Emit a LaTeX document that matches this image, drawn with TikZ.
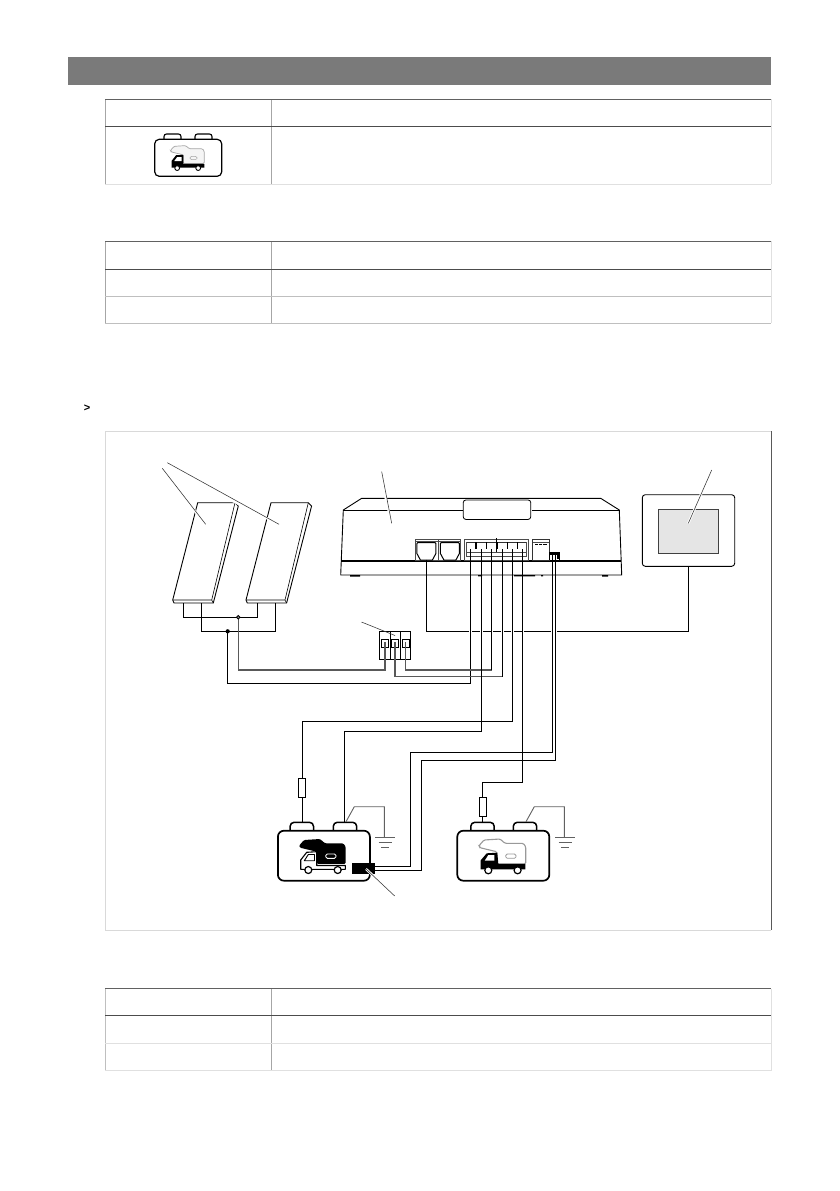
\documentclass[tikz,border=0pt]{standalone}
\usepackage{fontspec}
\setmainfont{Liberation Sans}
\tikzset{
  wire/.style={draw=black,line width=0.85pt,line join=miter},
  graywire/.style={draw=black!65,line width=1.2pt},
  leader/.style={draw=black!80,line width=0.55pt},
  leaderhalo/.style={draw=white,line width=2.4pt},
  ruledark/.style={draw=black!62,line width=0.8pt},
  rulelight/.style={draw=black!25,line width=0.8pt},
  rulefaint/.style={draw=black!12,line width=0.8pt},
  rulemid/.style={draw=black!35,line width=0.8pt},
  edge/.style={draw=black,line width=0.9pt,line join=round},
  batbody/.style={draw=black,line width=1.7pt,rounded corners=6pt,fill=white,minimum width=92pt,minimum height=50pt,inner sep=0pt,outer sep=0pt},
  smallbat/.style={draw=black,line width=1.2pt,rounded corners=4.5pt,fill=white,minimum width=67pt,minimum height=37pt,inner sep=0pt,outer sep=0pt},
  fuse/.style={draw=black,line width=0.7pt,fill=white,minimum width=7pt,minimum height=18.5pt,inner sep=0pt,outer sep=0pt},
  box/.style={draw=black,line width=0.9pt,fill=white,inner sep=0pt,outer sep=0pt},
  gnd/.pic={
    \draw[draw=black!62,line width=0.9pt] (-10,0)--(10,0) (-6.5,5)--(6.5,5) (-3.8,10)--(3.8,10);
  },
  termp/.pic={
    \draw[draw=black,line width=1.5pt,rounded corners=4pt,fill=white] (-11.7,9)--(-11.7,0)--(11.7,0)--(11.7,9);
  },
  smallterm/.pic={
    \draw[draw=black,line width=1.1pt,rounded corners=2.5pt,fill=white] (-8.5,7)--(-8.5,0)--(8.5,0)--(8.5,7);
  },
  panelp/.pic={
    \draw[edge,fill=white] (197.7,502.7)--(235,502.7)--(238.3,506)--(213.3,603)--(174,603)--(172.7,600)--cycle;
    \draw[edge,line width=0.6pt] (235,502.7)--(211.7,600)--(172.7,600) (211.7,600)--(213.3,603);
  },
  wheelp/.pic={
    \draw[draw=black,line width=1.2pt,fill=white] (0,0) circle (3.5);
  },
  rjjack/.pic={
    \draw[draw=black,line width=1pt,line join=round] (0,1)--(1,0)--(18,0)--(19,1)--(19,11)--(15.5,17.5)--(3.5,17.5)--(0,11)--cycle;
  },
}
% camper body, local coordinates from the top-left corner of a battery
\newcommand{\camperpath}{[rounded corners=1.2pt] (21.7,15.4)--(26.7,9.7)--(42.7,8.7)--(47.7,13)--(66,13)--(68.4,16.4)--(68.4,33.5)--(39.4,33.5)--(39.4,21.4)--(22.7,17.4)--cycle}
\begin{document}
\begin{tikzpicture}[x=1pt,y=-1pt]
\useasboundingbox (0,0) rectangle (839,1191);
\fill[white] (0,0) rectangle (839,1191);

% header band
\fill[fill=black!52] (68,57) rectangle (771,85);

% table 1
\draw[rulemid] (105,99)--(105,184) (271,99)--(271,184);
\draw[rulefaint] (771.5,99)--(771.5,184);
\draw[ruledark] (105,99)--(771,99);
\draw[draw=black!70,line width=0.9pt] (105,126.5)--(771,126.5);
\draw[rulefaint] (105,184)--(771,184);

% icon in table 1
\pic at (172.5,134) {smallterm};
\pic at (203.5,134) {smallterm};
\node[smallbat] (iconbat) at (188.2,157.8) {};
\begin{scope}[shift={(154.7,139.3)},scale=0.725]
  \draw[draw=black!35,line width=0.7pt,fill=black!4] \camperpath;
  \draw[draw=black!35,line width=0.5pt,rounded corners=1.5pt] (48.4,23.7) rectangle (58.7,28);
  \fill[black] (23.4,39)--(23.4,29.7)--(29.4,22)--(39.4,21.4)--(39.4,34)--(68.4,34)--(68.4,39)--cycle;
  \fill[white] (27,30)--(31,24.5)--(37,24.5)--(37,30)--cycle;
  \draw[draw=black,line width=0.9pt,fill=white] (31,39.7) circle (3.3) (60,39.7) circle (3.3);
\end{scope}

% table 2
\draw[rulemid] (105,241.3)--(105,323.3) (271,241.3)--(271,323.3);
\draw[rulefaint] (771.5,241.3)--(771.5,323.3);
\draw[ruledark] (105,241.3)--(771,241.3);
\draw[draw=black!70,line width=0.9pt] (105,269.3)--(771,269.3);
\draw[rulelight] (105,296.3)--(771,296.3) (105,323.3)--(771,323.3);

% table 3
\draw[rulelight] (105.5,988.5)--(105.5,1070.5);
\draw[rulemid] (271,988.5)--(271,1070.5);
\draw[rulefaint] (771.5,988.5)--(771.5,1070.5);
\draw[ruledark] (105,988.5)--(771,988.5);
\draw[draw=black!70,line width=0.9pt] (105,1015.5)--(771,1015.5);
\draw[rulefaint] (105,1043.3)--(771,1043.3) (105,1070.5)--(771,1070.5);

% chevron
\node[inner sep=0pt,font=\fontsize{11}{11}\selectfont\bfseries] (chevron) at (87,408.5) {>};

% figure frame
\draw[draw=black!15,line width=0.8pt] (105,431.3)--(771,431.3);
\draw[draw=black!15,line width=0.8pt] (105,431.3)--(105,930)--(771,930);
\draw[draw=black!65,line width=0.9pt] (771.5,431)--(771.5,930);

% ---- named connection points ----
\coordinate (p1a) at (183.3,603);
\coordinate (p1b) at (201.3,603);
\coordinate (p2a) at (257.3,603);
\coordinate (p2b) at (275.3,603);
\coordinate (dotg) at (238.3,617.3);
\coordinate (dotk) at (227.7,631.3);
\coordinate (sw1) at (385,642);
\coordinate (sw2) at (395,642);
\coordinate (sw3) at (405.3,642);
\coordinate (jack) at (426.7,559.5);
\coordinate (t1) at (470.5,549);
\coordinate (t2) at (481.3,549);
\coordinate (t3) at (491.7,549);
\coordinate (t4) at (502.3,549);
\coordinate (t5) at (512.3,549);
\coordinate (t6) at (522.7,549);
\coordinate (s1) at (552.3,554);
\coordinate (s2) at (555.3,554);
\coordinate (dsp) at (688.7,566.3);
\coordinate (a1) at (302.3,822.3);
\coordinate (a2) at (344.3,822.3);
\coordinate (b1) at (482.3,822.3);
\coordinate (g1) at (346,821.7);
\coordinate (g2) at (526,821.7);

% ---- panels ----
\pic {panelp};
\begin{scope}[xshift=73.3pt]\pic {panelp};\end{scope}

% ---- control unit ----
\draw[edge,fill=white] (343.3,510)--(361.7,498.3)--(600.7,498.3)--(619.3,510)--(621.7,575)--(340.7,575)--cycle;
\draw[edge] (343.3,510.5)--(463.3,510.5) (532.3,510.5)--(619.3,510.5);
\draw[draw=black,line width=1.5pt] (341.2,560.8)--(621.3,560.8);
\node[draw=black,line width=0.8pt,rounded corners=2.5pt,minimum width=67.4pt,minimum height=19.4pt,inner sep=0pt,outer sep=0pt,fill=white] (label) at (497,509.7) {};
\fill[black] (350,575) rectangle (360,576.6) (602,575) rectangle (608,576.6)
  (478,575) rectangle (482,576.4) (514,575) rectangle (535,576.4) (541,575) rectangle (543,576.4);
% RJ sockets
\node[draw=black!70,line width=0.8pt,fill=white,inner sep=0pt,outer sep=0pt,minimum width=45.5pt,minimum height=21.5pt,anchor=north west] (rj) at (415,539.3) {};
\draw[draw=black!70,line width=0.6pt] (438.3,539.3)--(438.3,560.5) (415,541.5)--(460.5,541.5);
\pic at (416.9,542.5) {rjjack};
\pic at (440.4,542.5) {rjjack};
% terminal block
\node[draw=black!70,line width=0.8pt,fill=white,inner sep=0pt,outer sep=0pt,minimum width=64pt,minimum height=21.5pt,anchor=north west] (block) at (464.3,539.3) {};
\draw[draw=black!80,line width=0.6pt] (466.5,542)--(526.5,542);
\draw[draw=black!70,line width=0.5pt] (466.5,542)--(466.5,556)--(526.5,556)--(526.5,542);
\draw[draw=black!70,line width=0.6pt] (467,552.3)--(526,552.3);
\foreach \xx in {476,486.5,497.5,507.5,517.5}
  \draw[draw=black,line width=1.4pt] (\xx,542)--(\xx,549);
\draw[draw=black,line width=0.7pt] (496.7,538)--(496.7,552);
% service connector
\node[draw=black!80,line width=0.8pt,fill=white,inner sep=0pt,outer sep=0pt,minimum width=16.6pt,minimum height=21.5pt,anchor=north west] (conn) at (532.5,539.3) {};
\draw[draw=black!70,line width=0.5pt] (532.5,542.7)--(549,542.7);
\draw[draw=black,line width=1.4pt,dash pattern=on 3pt off 0.8pt] (535,544.6)--(546.7,544.6);
% plug
\node[fill=black,inner sep=0pt,minimum width=10pt,minimum height=2.8pt,anchor=north west] (plug) at (549.3,551.7) {};
\draw[draw=black,line width=0.7pt] (549.8,552)--(549.8,560) (559,552)--(559,560);
\fill[black] (557,555) rectangle (558.5,559);

% ---- display ----
\node[draw=black,line width=0.9pt,rounded corners=3pt,minimum width=92.4pt,minimum height=71.6pt,inner sep=0pt,outer sep=0pt,fill=white] (display) at (688.5,530.5) {};
\node[draw=black!75,line width=0.9pt,fill=black!10,minimum width=59.3pt,minimum height=44.4pt,inner sep=0pt,outer sep=0pt] (screen) at (688.4,531.5) {};

% ---- battery terminals ----
\pic at (301.8,822.3) {termp};
\pic at (345,822.3) {termp};
\pic at (482.5,822.3) {termp};
\pic at (525,822.3) {termp};
% ---- batteries ----
\node[batbody] (bat1) at (323.9,855.7) {};
\node[batbody] (bat2) at (503.3,855.7) {};
% truck on battery 1: dark camper, light cab
\begin{scope}[shift={(277.3,830.3)}]
  \fill[black] \camperpath;
  \draw[draw=white,line width=0.9pt,rounded corners=1.5pt] (48.4,23.7) rectangle (58.7,28);
  \draw[draw=black,line width=1.1pt,fill=white,line join=round] (23.4,39)--(23.4,29.7)--(29.4,22)--(39.4,21.4)--(39.4,35.2)--(68,35.2)--(68,39)--cycle;
  \draw[draw=black,line width=0.9pt,line join=round] (27,30.4)--(31,24.2)--(37.2,24.2)--(37.2,30.4)--cycle;
  \pic at (31,39.7) {wheelp};
  \pic at (60.4,39.7) {wheelp};
\end{scope}
% truck on battery 2: light camper, dark cab
\begin{scope}[shift={(457.3,830.3)}]
  \draw[draw=black!40,line width=1.1pt,fill=white] \camperpath;
  \draw[draw=black!40,line width=0.8pt,rounded corners=1.5pt] (48.4,23.7) rectangle (58.7,28);
  \fill[black] (23.4,39)--(23.4,30)--(29.4,23)--(40,22.4)--(41,33.5)--(68,33.5)--(68,39)--cycle;
  \fill[white] (27.5,30.2)--(31,24.8)--(37,24.8)--(37,30.2)--cycle;
  \pic at (31,40) {wheelp};
  \pic at (60.3,40) {wheelp};
\end{scope}
\node[fill=black,inner sep=0pt,minimum width=23.3pt,minimum height=11pt] (shunt) at (363.3,868.5) {};

% ---- fuse block ----
\node[box,minimum width=31.4pt,minimum height=28pt,anchor=north west] (fbox) at (379.3,631.3) {};
\draw[draw=black,line width=0.9pt] (390.3,631.3)--(390.3,659.3) (400.3,631.3)--(400.3,659.3);
\draw[draw=black,line width=0.9pt] (381.3,639.3) rectangle (388.7,647.3) (391.3,639.3) rectangle (398.7,647.3) (402,639.3) rectangle (409.3,647.3);

% ---- wiring ----
\draw[wire] (p1a)--(183.3,617.3)--(257.3,617.3)--(p2a);
\draw[wire] (p1b)--(201.3,631.3)--(275.3,631.3)--(p2b);
\fill[black] (dotk) circle (2.1);
\draw[graywire] (dotg)--(238.3,670)--(385,670)--(sw1);
\draw[draw=black,line width=0.8pt,fill=black!45] (dotg) circle (1.8);
\draw[wire] (dotk)--(227.7,683.3)--(470.5,683.3)--(t1);
\draw[graywire] (sw2)--(395,676.7)--(502.3,676.7);
\draw[graywire] (sw3)--(405.3,670)--(491.7,670);
% display line, passes behind the others
\draw[wire] (jack)--(426.7,631.3)--(688.7,631.3)--(dsp);
\foreach \xx in {470.5,481.3,491.7,502.3,512.3,522.7,552.3,555.3}
  \draw[draw=white,line width=2.4pt] (\xx,628)--(\xx,634.6);
\draw[wire] (t1)--(470.5,640);
\draw[wire] (t2)--(481.3,731.3)--(344.3,731.3)--(a2);
\draw[wire] (t3)--(491.7,670);
\draw[wire] (t4)--(502.3,676.7);
\draw[wire] (t5)--(512.3,721.3)--(302.3,721.3)--(a1);
\draw[wire] (t6)--(522.7,782.3)--(482.3,782.3)--(b1);
\draw[wire] (s1)--(552.3,752.3)--(410.3,752.3)--(410.3,866.7)--(shunt.east |- 0,866.7);
\draw[wire] (s2)--(555.3,760.3)--(421.7,760.3)--(421.7,870.3)--(shunt.east |- 0,870.3);
\node[fuse] (fuse1) at (302.2,788) {};
\node[fuse] (fuse2) at (482.5,806.7) {};
% grounds
\draw[draw=black!62,line width=0.9pt] (g1)--(354.3,806.7)--(384.3,806.7)--(384.3,837);
\draw[draw=black!62,line width=0.9pt] (g2)--(534.3,806.7)--(564.3,806.7)--(564.3,837);
\pic at (385,837.3) {gnd};
\pic at (565,837.3) {gnd};

% ---- leaders ----
\coordinate (lA) at (167.3,462.7);
\coordinate (lB) at (162.3,468.3);
\coordinate (lC) at (381.7,471.7);
\coordinate (lD) at (711.7,470);
\coordinate (lE) at (394.7,896);
\coordinate (lF) at (361.5,622);
\draw[leaderhalo] (221,495)--(279,524.3);
\draw[leaderhalo] (190,505)--(205.7,524.3);
\draw[leaderhalo] (385,495)--(391.7,523.3);
\draw[leaderhalo] (705,485)--(688.3,523.3);
\draw[leaderhalo] (380,882)--(366,869);
\draw[leader] (lA)--(279,524.3);
\draw[leader] (lB)--(205.7,524.3);
\draw[leader] (lC)--(391.7,523.3);
\draw[leader] (lD)--(688.3,523.3);
\draw[leader] (lE)--(366,869);
\draw[leader] (lF)--(395,635.5);
\end{tikzpicture}
\end{document}
